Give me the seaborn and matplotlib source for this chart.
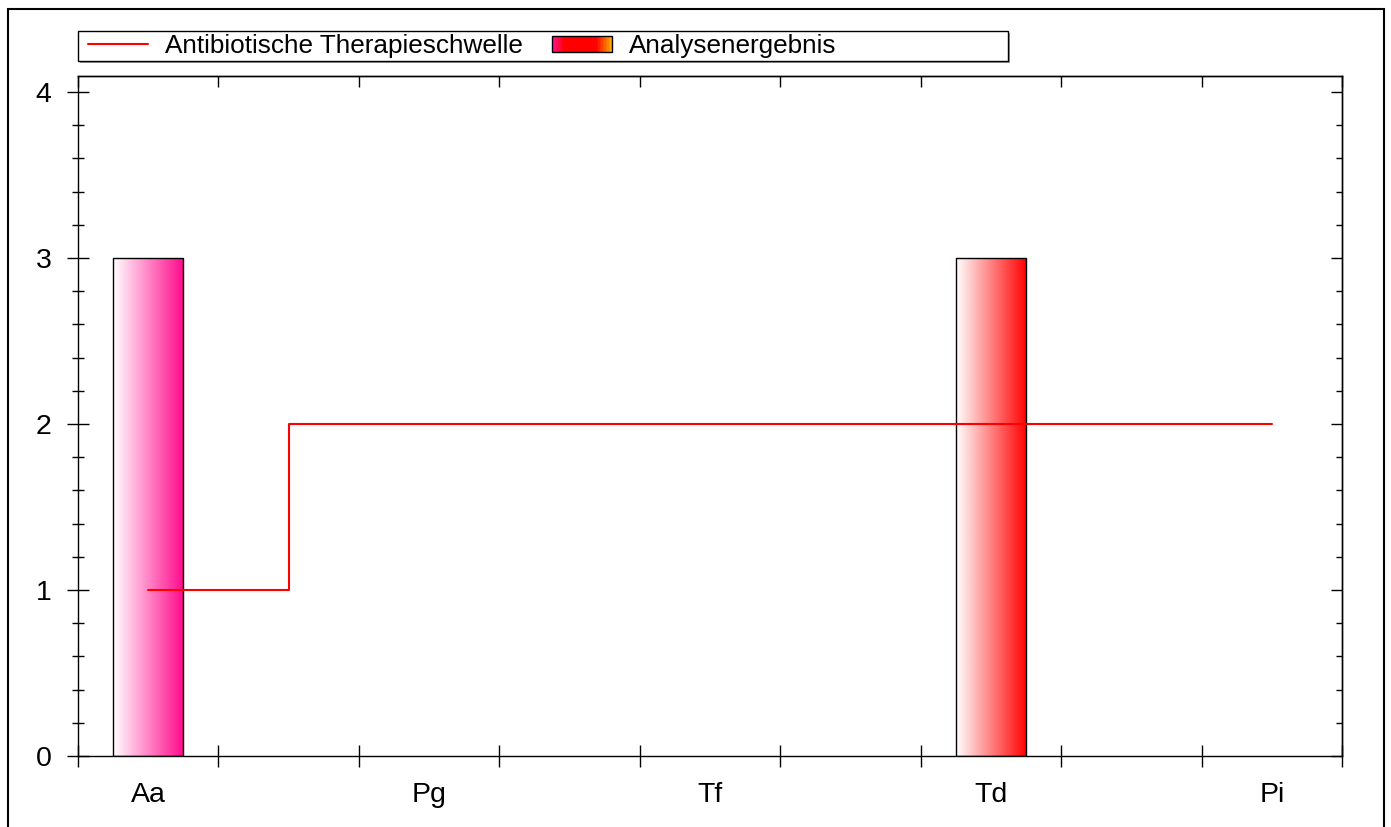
import numpy as np
import pandas as pd
import matplotlib
matplotlib.use("Agg")
import matplotlib.pyplot as plt
import seaborn as sns
from matplotlib.colors import LinearSegmentedColormap
from matplotlib.patches import Rectangle
from matplotlib.lines import Line2D
from matplotlib.legend_handler import HandlerBase

# --- datos ---
categorias = ["Aa", "Pg", "Tf", "Td", "Pi"]
posiciones = [0.5, 2.5, 4.5, 6.5, 8.5]
analyse = [3, 0, 0, 3, 0]
schwelle = [1, 2, 2, 2, 2]
farben = ["#FF0A8C", "#FF0000", "#FF0000", "#FF0000", "#FF0000"]

sns.set_style("ticks")
plt.rcParams["font.family"] = ["Liberation Sans", "DejaVu Sans"]
plt.rcParams["text.color"] = "black"
plt.rcParams["xtick.color"] = "black"
plt.rcParams["ytick.color"] = "black"
plt.rcParams["axes.edgecolor"] = "black"

W, H = 1391, 827
df = pd.DataFrame({"pos": posiciones, "wert": analyse, "kat": categorias})

fig = plt.figure(figsize=(W / 100, H / 100), dpi=100)
ax = fig.add_axes([78 / W, 1 - 756 / H, (1342 - 78) / W, (756 - 76) / H])

# --- barras con degradado ---
sns.barplot(data=df, x="pos", y="wert", native_scale=True, width=0.25,
            color="white", edgecolor="black", linewidth=1.0, errorbar=None, ax=ax)

grad = np.linspace(0, 1, 256).reshape(1, -1)
for patch, farbe, wert in zip(ax.patches, farben, analyse):
    if wert == 0:
        patch.set_visible(False)
        continue
    x0, y0 = patch.get_x(), patch.get_y()
    w, h = patch.get_width(), patch.get_height()
    cmap = LinearSegmentedColormap.from_list("g", ["white", farbe])
    im = ax.imshow(grad, cmap=cmap, extent=[x0, x0 + w, y0, y0 + h],
                   aspect="auto", origin="lower", zorder=2)
    im.set_clip_path(patch)
    patch.set_facecolor("none")
    patch.set_zorder(3)

# --- linea de umbral ---
sns.lineplot(x=posiciones, y=schwelle, color="red", drawstyle="steps-mid",
             linewidth=1.5, ax=ax, zorder=4)

ax.set_xlim(0, 9)
ax.set_ylim(0, 4 + 16 / 166)
ax.set_xlabel("")
ax.set_ylabel("")

# ejes y ticks
ax.set_xticks(range(0, 10))
ax.set_xticklabels([])
ax.set_xticks(posiciones, minor=True)
ax.set_xticklabels(categorias, minor=True, fontsize=20.5)
ax.tick_params(axis="x", which="major", direction="inout", length=16, width=1.0,
               top=False, bottom=True)
ax.tick_params(axis="x", which="minor", length=0, pad=19, top=False)
ax.set_yticks([0, 1, 2, 3, 4])
ax.set_yticks(np.arange(0, 4.01, 0.2), minor=True)
ax.tick_params(axis="y", which="major", direction="inout", length=16, width=1.0,
               labelsize=20.5, pad=11, right=False)
ax.tick_params(axis="y", which="minor", direction="inout", length=9, width=1.0, right=False)

sec_y = ax.secondary_yaxis("right")
sec_y.set_yticks([0, 1, 2, 3, 4])
sec_y.set_yticks(np.arange(0, 4.01, 0.2), minor=True)
sec_y.tick_params(axis="y", which="major", direction="in", length=8, width=1.0, labelright=False)
sec_y.tick_params(axis="y", which="minor", direction="in", length=4.5, width=1.0)

sec_x = ax.secondary_xaxis("top")
sec_x.set_xticks(range(0, 10))
sec_x.tick_params(axis="x", direction="in", length=8, width=1.0, labeltop=False)

for s in ax.spines.values():
    s.set_linewidth(1.0)
sec_y.spines["right"].set_linewidth(1.0)
sec_x.spines["top"].set_linewidth(1.0)


# --- leyenda con parche degradado ---
class GradientHandler(HandlerBase):
    def create_artists(self, legend, orig_handle, xdescent, ydescent, width, height, fontsize, trans):
        cmap = LinearSegmentedColormap.from_list(
            "leg", [(0, "#FF1493"), (0.2, "#FF0000"), (0.75, "#FF0000"), (1, "#FFA500")])
        n = 40
        artists = []
        for i in range(n):
            r = Rectangle((-xdescent + width * i / n, -ydescent), width / n + 0.3, height,
                          facecolor=cmap(i / (n - 1)), edgecolor="none", transform=trans)
            artists.append(r)
        artists.append(Rectangle((-xdescent, -ydescent), width, height, facecolor="none",
                                 edgecolor="black", linewidth=1.0, transform=trans))
        return artists


# marco de la leyenda con sombra
fig.add_artist(Rectangle(((78 + 2) / W, 1 - (61 + 2) / H), 930 / W, 30 / H,
                         transform=fig.transFigure, facecolor="#9a9a9a", edgecolor="none"))
fig.add_artist(Rectangle((78 / W, 1 - 61 / H), 930 / W, 30 / H,
                         transform=fig.transFigure, facecolor="white", edgecolor="black",
                         linewidth=1.0))

handles = [Line2D([0], [0], color="red", lw=1.5), Rectangle((0, 0), 1, 1)]
labels = ["Antibiotische Therapieschwelle", "Analysenergebnis"]
leg = fig.legend(handles, labels, ncol=2, loc="center left",
                 bbox_to_anchor=(88 / W, 1 - 46 / H),
                 bbox_transform=fig.transFigure, fontsize=18.8, frameon=False,
                 handlelength=2.3, handleheight=0.6, borderpad=0.0, borderaxespad=0.0,
                 handletextpad=0.66, columnspacing=1.1,
                 handler_map={Rectangle: GradientHandler()})
leg.set_zorder(5)

# marco exterior
fig.add_artist(Rectangle((8 / W, -0.02), (1384 - 8) / W, 1 - 9 / H + 0.02,
                         transform=fig.transFigure, fill=False, edgecolor="black", linewidth=1.5))

fig.savefig("out.png", dpi=100)
